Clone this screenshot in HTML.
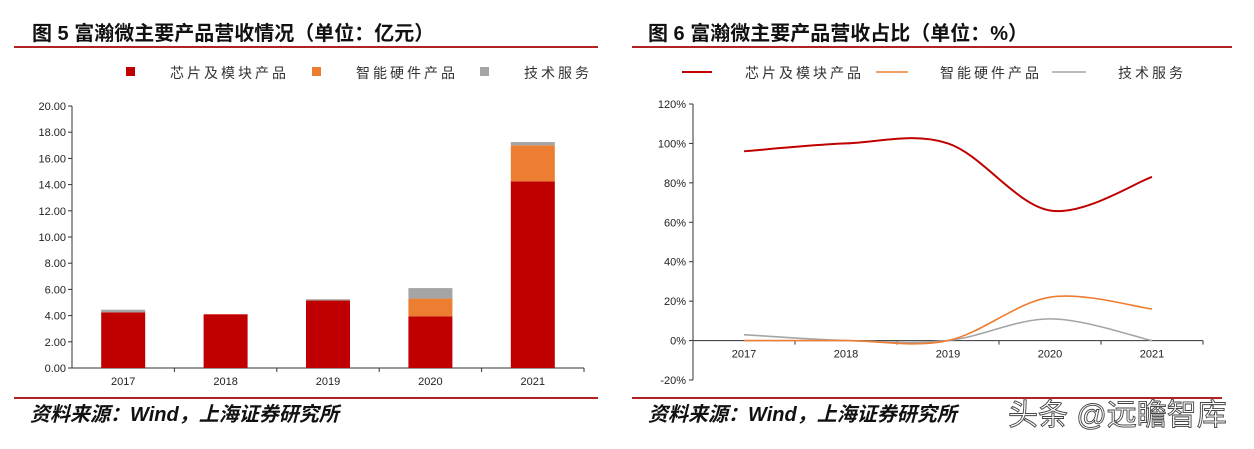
<!DOCTYPE html>
<html><head><meta charset="utf-8"><style>
body{margin:0;width:1254px;height:444px;background:#fff;overflow:hidden;font-family:"Liberation Sans","Noto Sans CJK SC",sans-serif;}
</style></head><body>
<svg id="s" width="1254" height="444" xmlns="http://www.w3.org/2000/svg">
<g font-family="Liberation Sans, Noto Sans CJK SC, sans-serif">
<text x="32" y="40" font-size="20" font-weight="bold" fill="#111">图 5 富瀚微主要产品营收情况（单位：亿元）</text>
<line x1="14" y1="47" x2="598" y2="47" stroke="#b22222" stroke-width="2"/>
<text x="648" y="40" font-size="20" font-weight="bold" fill="#111">图 6 富瀚微主要产品营收占比（单位：%）</text>
<line x1="632" y1="47" x2="1232" y2="47" stroke="#b22222" stroke-width="2"/>
<line x1="14" y1="398" x2="598" y2="398" stroke="#b22222" stroke-width="2"/>
<line x1="632" y1="398" x2="1222" y2="398" stroke="#b22222" stroke-width="2"/>
<text x="30" y="421" font-size="20" font-weight="bold" font-style="italic" fill="#111">资料来源：Wind，上海证券研究所</text>
<text x="648" y="421" font-size="20" font-weight="bold" font-style="italic" fill="#111">资料来源：Wind，上海证券研究所</text>
<text x="1008" y="425" font-size="30" fill="#fff" stroke="#444" stroke-width="0.9">头条 @远瞻智库</text>
<g font-size="14" fill="#333">
<rect x="126" y="67" width="9" height="9" fill="#c00000"/><text x="170" y="78" letter-spacing="3">芯片及模块产品</text>
<rect x="312" y="67" width="9" height="9" fill="#ed7d31"/><text x="356" y="78" letter-spacing="3">智能硬件产品</text>
<rect x="480" y="67" width="9" height="9" fill="#a5a5a5"/><text x="524" y="78" letter-spacing="3">技术服务</text>
</g>
<g font-size="14" fill="#333">
<line x1="682" y1="72" x2="712" y2="72" stroke="#c00000" stroke-width="2"/><text x="745" y="78" letter-spacing="3">芯片及模块产品</text>
<line x1="876" y1="72" x2="908" y2="72" stroke="#ed7d31" stroke-width="1.5"/><text x="940" y="78" letter-spacing="3">智能硬件产品</text>
<line x1="1052" y1="72" x2="1086" y2="72" stroke="#a5a5a5" stroke-width="1.5"/><text x="1118" y="78" letter-spacing="3">技术服务</text>
</g>
<g id="c1"></g><g id="c2"></g>
</g></svg>
<script>
const years=["2017","2018","2019","2020","2021"];
const chip=[4.25,4.1,5.15,3.95,14.25];
const hardware=[0,0,0,1.35,2.75];
const service=[0.2,0,0.1,0.8,0.25];
const yTicks1=[0,2,4,6,8,10,12,14,16,18,20];
const chipPct=[96,100,100,66,83];
const hardwarePct=[0,0,0,22,16];
const servicePct=[3,0,0,11,0];
const yTicks2=[-20,0,20,40,60,80,100,120];
const NS="http://www.w3.org/2000/svg";
function mk(p,t,a){const e=document.createElementNS(NS,t);for(const k in a)e.setAttribute(k,a[k]);p.appendChild(e);return e;}
const c1=document.getElementById('c1');
const L1=72,R1=584,T1=106,B1=368;
const y1=v=>B1-(v/20)*(B1-T1);
const bw1=(R1-L1)/years.length;
const x1=i=>L1+bw1*(i+0.5);
let ax=mk(c1,'line',{x1:L1,y1:T1,x2:L1,y2:B1,stroke:'#333'});


ax=mk(c1,'line',{x1:L1,y1:B1,x2:R1,y2:B1,stroke:'#333'});


yTicks1.forEach(v=>{const y=y1(v);mk(c1,'line',{x1:L1-4,y1:y,x2:L1,y2:y,stroke:'#333'});
const t=mk(c1,'text',{x:L1-6,y:y+4,'text-anchor':'end','font-size':11,fill:'#222'});t.textContent=v.toFixed(2);

});
years.forEach((yr,i)=>{
 mk(c1,'line',{x1:L1+bw1*(i+1),y1:B1,x2:L1+bw1*(i+1),y2:B1+4,stroke:'#333'});
 const t=mk(c1,'text',{x:x1(i),y:B1+17,'text-anchor':'middle','font-size':11,fill:'#222'});t.textContent=yr;
 
 
 let base=0;
 [[chip,'#c00000','chip'],[hardware,'#ed7d31','hardware'],[service,'#a5a5a5','service']].forEach(([arr,col,nm])=>{
  const v=arr[i]; if(v<=0)return;
  const r=mk(c1,'rect',{x:x1(i)-22,y:y1(base+v),width:44,height:y1(base)-y1(base+v),fill:col});
  
  
  base+=v;});
});
const c2=document.getElementById('c2');
const L2=693,R2=1203,T2=104,B2=380;
const y2=v=>B2-(v+20)/140*(B2-T2);
const bw2=(R2-L2)/years.length;
const x2=i=>L2+bw2*(i+0.5);
ax=mk(c2,'line',{x1:L2,y1:T2,x2:L2,y2:B2,stroke:'#333'});


ax=mk(c2,'line',{x1:L2,y1:y2(0),x2:R2,y2:y2(0),stroke:'#333'});


yTicks2.forEach(v=>{const y=y2(v);mk(c2,'line',{x1:L2-4,y1:y,x2:L2,y2:y,stroke:'#333'});
const t=mk(c2,'text',{x:L2-7,y:y+4,'text-anchor':'end','font-size':11,fill:'#222'});t.textContent=v+'%';

});
years.forEach((yr,i)=>{
 mk(c2,'line',{x1:L2+bw2*(i+1),y1:y2(0),x2:L2+bw2*(i+1),y2:y2(0)+4,stroke:'#333'});
 const t=mk(c2,'text',{x:x2(i),y:y2(0)+17,'text-anchor':'middle','font-size':11,fill:'#222'});t.textContent=yr;
 
 
});
function smooth(arr){const p=arr.map((v,i)=>[x2(i),y2(v)]);let d='M'+p[0];
 for(let i=0;i<p.length-1;i++){const p0=p[i-1]||p[i],p1=p[i],p2=p[i+1],p3=p[i+2]||p2;
  const c1x=p1[0]+(p2[0]-p0[0])/6,c1y=p1[1]+(p2[1]-p0[1])/6,c2x=p2[0]-(p3[0]-p1[0])/6,c2y=p2[1]-(p3[1]-p1[1])/6;
  d+=` C${c1x},${c1y} ${c2x},${c2y} ${p2[0]},${p2[1]}`;}return d;}
[[servicePct,'#a5a5a5','service'],[hardwarePct,'#ed7d31','hardware'],[chipPct,'#c00000','chip']].forEach(([arr,col,nm])=>{
 const p=mk(c2,'path',{d:smooth(arr),fill:'none',stroke:col,'stroke-width':nm==='chip'?2:1.6});
 
 
});
</script>
</body></html>
